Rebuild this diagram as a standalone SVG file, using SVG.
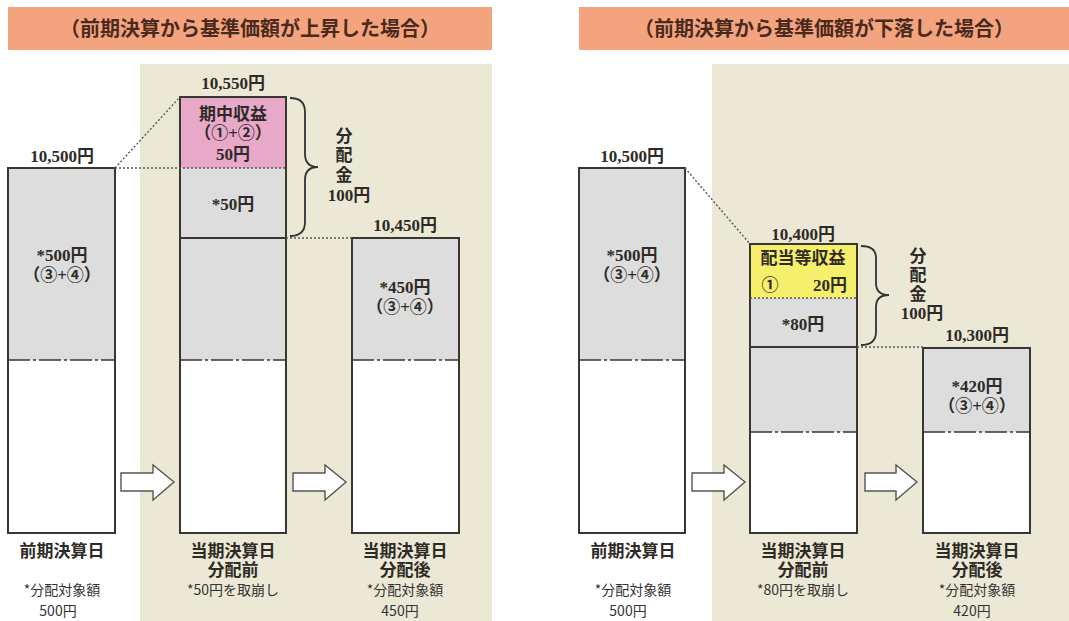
<svg xmlns="http://www.w3.org/2000/svg" width="1069" height="621" viewBox="0 0 1069 621">
<style>
.hdr{fill:#f3a47f}
.bg{fill:#ece8d6}
.bar{stroke:#3a3632;stroke-width:2;fill:none}
.gray{fill:#dddddd}
.white{fill:#ffffff}
.pink{fill:#e8a8c8}
.yellow{fill:#f6ef6c}
.div{stroke:#3a3632;stroke-width:1.6;stroke-dasharray:22 3 3 3}
.solid{stroke:#3a3632;stroke-width:2}
.dot{stroke:#555;stroke-width:1.4;stroke-dasharray:2 2;fill:none}
.brace{stroke:#333;stroke-width:1.8;fill:none}
.arrow{fill:#fff;stroke:#555;stroke-width:1.4}
.t{font-family:"Liberation Serif","Noto Sans CJK JP",serif;font-weight:bold;font-size:17px;fill:#2e2a26;text-anchor:middle}
.h{font-family:"Liberation Serif","Noto Sans CJK JP",serif;font-weight:bold;font-size:20px;fill:#4a2a1c;text-anchor:middle}
.s{font-family:"Noto Sans CJK JP",sans-serif;font-size:14px;fill:#333;text-anchor:middle}
</style>
<rect width="1069" height="621" fill="#ffffff"/>

<g id="left-panel">
  <rect class="hdr" x="8" y="7" width="484" height="43"/>
  <text class="h" x="250" y="36">（前期決算から基準価額が上昇した場合）</text>
  <rect class="bg" x="140" y="64" width="352" height="557"/>
</g>
<g id="right-panel">
  <rect class="hdr" x="579" y="7" width="490" height="43"/>
  <text class="h" x="824" y="36">（前期決算から基準価額が下落した場合）</text>
  <rect class="bg" x="712" y="64" width="357" height="557"/>
</g>

<g id="L-bar1">
  <rect class="gray" x="8" y="168" width="107" height="192"/>
  <rect class="white" x="8" y="360" width="107" height="173"/>
  <line class="div" x1="8" y1="360" x2="115" y2="360"/>
  <rect class="bar" x="8" y="168" width="107" height="365"/>
  <text class="t" x="62" y="162">10,500円</text>
  <text class="t" x="62" y="261">*500円</text>
  <text class="t" x="62" y="281">（③+④）</text>
  <text class="t" x="62" y="557">前期決算日</text>
  <text class="s" x="62" y="595">*分配対象額</text>
  <text class="s" x="58" y="616">500円</text>
</g>

<g id="L-bar2">
  <rect class="pink" x="180" y="97" width="106" height="71"/>
  <rect class="gray" x="180" y="168" width="106" height="192"/>
  <rect class="white" x="180" y="360" width="106" height="173"/>
  <line class="solid" x1="180" y1="238" x2="286" y2="238"/>
  <line class="div" x1="180" y1="360" x2="286" y2="360"/>
  <rect class="bar" x="180" y="97" width="106" height="436"/>
  <text class="t" x="233" y="89">10,550円</text>
  <text class="t" x="233" y="120">期中収益</text>
  <text class="t" x="233" y="139">（①+②）</text>
  <text class="t" x="233" y="160">50円</text>
  <text class="t" x="233" y="210">*50円</text>
  <text class="t" x="233" y="557">当期決算日</text>
  <text class="t" x="233" y="576">分配前</text>
  <text class="s" x="233" y="595">*50円を取崩し</text>
</g>

<g id="L-bar3">
  <rect class="gray" x="352" y="238" width="107" height="122"/>
  <rect class="white" x="352" y="360" width="107" height="173"/>
  <line class="div" x1="352" y1="360" x2="459" y2="360"/>
  <rect class="bar" x="352" y="238" width="107" height="295"/>
  <text class="t" x="405" y="231">10,450円</text>
  <text class="t" x="405" y="293">*450円</text>
  <text class="t" x="405" y="313">（③+④）</text>
  <text class="t" x="405" y="557">当期決算日</text>
  <text class="t" x="405" y="576">分配後</text>
  <text class="s" x="405" y="595">*分配対象額</text>
  <text class="s" x="400" y="616">450円</text>
</g>

<g id="L-dist">
  <text class="t" x="344" y="142">分</text>
  <text class="t" x="344" y="161">配</text>
  <text class="t" x="344" y="181">金</text>
  <text class="t" x="349" y="201">100円</text>
</g>

<g id="R-bar1">
  <rect class="gray" x="579" y="168" width="106" height="192"/>
  <rect class="white" x="579" y="360" width="106" height="173"/>
  <line class="div" x1="579" y1="360" x2="685" y2="360"/>
  <rect class="bar" x="579" y="168" width="106" height="365"/>
  <text class="t" x="632" y="162">10,500円</text>
  <text class="t" x="632" y="261">*500円</text>
  <text class="t" x="632" y="281">（③+④）</text>
  <text class="t" x="633" y="557">前期決算日</text>
  <text class="s" x="633" y="595">*分配対象額</text>
  <text class="s" x="628" y="616">500円</text>
</g>

<g id="R-bar2">
  <rect class="yellow" x="750" y="244" width="107" height="54"/>
  <rect class="gray" x="750" y="298" width="107" height="134"/>
  <rect class="white" x="750" y="432" width="107" height="101"/>
  <line class="solid" x1="750" y1="347" x2="857" y2="347"/>
  <line class="div" x1="750" y1="432" x2="857" y2="432"/>
  <rect class="bar" x="750" y="244" width="107" height="289"/>
  <text class="t" x="803" y="240">10,400円</text>
  <text class="t" x="803" y="264">配当等収益</text>
  <text class="t" x="770" y="291">①</text>
  <text class="t" x="830" y="291">20円</text>
  <text class="t" x="803" y="330">*80円</text>
  <text class="t" x="803" y="557">当期決算日</text>
  <text class="t" x="803" y="576">分配前</text>
  <text class="s" x="803" y="595">*80円を取崩し</text>
</g>

<g id="R-bar3">
  <rect class="gray" x="923" y="348" width="107" height="84"/>
  <rect class="white" x="923" y="432" width="107" height="101"/>
  <line class="div" x1="923" y1="432" x2="1030" y2="432"/>
  <rect class="bar" x="923" y="348" width="107" height="185"/>
  <text class="t" x="977" y="341">10,300円</text>
  <text class="t" x="977" y="392">*420円</text>
  <text class="t" x="977" y="412">（③+④）</text>
  <text class="t" x="977" y="557">当期決算日</text>
  <text class="t" x="977" y="576">分配後</text>
  <text class="s" x="977" y="595">*分配対象額</text>
  <text class="s" x="972" y="616">420円</text>
</g>

<g id="R-dist">
  <text class="t" x="918" y="262">分</text>
  <text class="t" x="918" y="281">配</text>
  <text class="t" x="918" y="300">金</text>
  <text class="t" x="922" y="319">100円</text>
</g>

<g id="connectors">
  <line class="dot" x1="115" y1="168" x2="180" y2="97"/>
  <line class="dot" x1="115" y1="168" x2="286" y2="168"/>
  <line class="dot" x1="286" y1="238" x2="352" y2="238"/>
  <line class="dot" x1="685" y1="168" x2="750" y2="244"/>
  <line class="dot" x1="750" y1="298" x2="857" y2="298"/>
  <line class="dot" x1="857" y1="347" x2="923" y2="347"/>
  <path class="brace" d="M290,98 Q305,98 305,112 L305,154 Q305,167 318,167 Q305,167 305,180 L305,222 Q305,236 290,236"/>
  <path class="brace" d="M861,246 Q876,246 876,258 L876,283 Q876,295 889,295 Q876,295 876,307 L876,332 Q876,345 861,345"/>
  <path class="arrow" d="M121,473 L153,473 L153,465 L174,482 L153,500 L153,491 L121,491 Z"/>
  <path class="arrow" d="M293,473 L325,473 L325,465 L346,482 L325,500 L325,491 L293,491 Z"/>
  <path class="arrow" d="M692,473 L724,473 L724,465 L745,482 L724,500 L724,491 L692,491 Z"/>
  <path class="arrow" d="M865,473 L896,473 L896,465 L917,482 L896,500 L896,491 L865,491 Z"/>
</g>
</svg>
